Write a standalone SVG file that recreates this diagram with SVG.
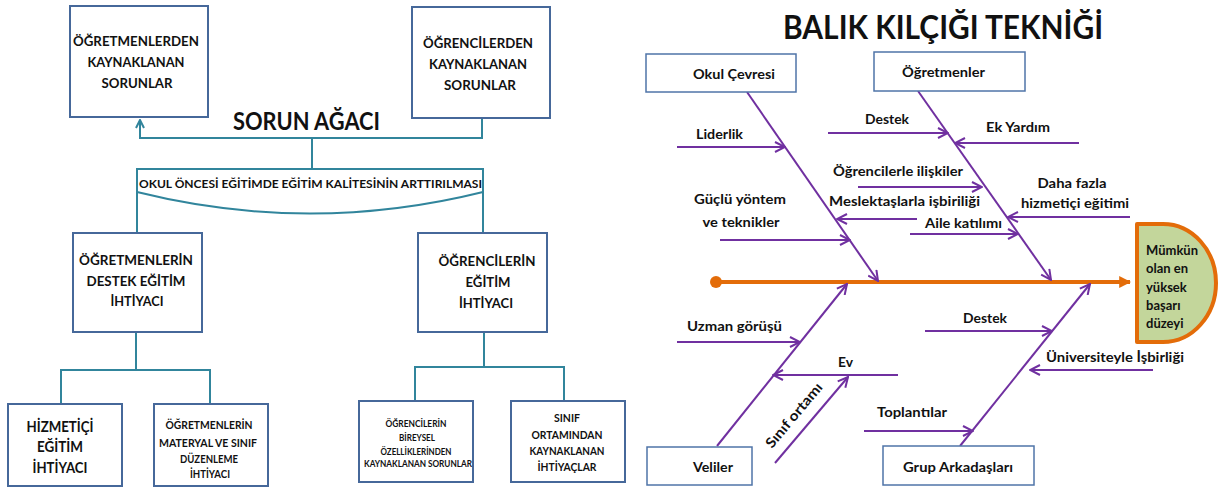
<svg xmlns="http://www.w3.org/2000/svg" width="1219" height="487" viewBox="0 0 1219 487">
<defs>
<style>
text{font-family:Lato,"Noto Sans","Liberation Sans",sans-serif;font-weight:bold;fill:#111}
.box{fill:#fff;stroke:#46689A;stroke-width:2}
.tc{fill:none;stroke:#31859C;stroke-width:2}
.pb{fill:none;stroke:#7030A0;stroke-width:2}
.fb{fill:#fff;stroke:#4F74A8;stroke-width:1.5}
.m{text-anchor:middle}
</style>
<marker id="ta" viewBox="0 0 10 10" refX="9" refY="5" markerWidth="10" markerHeight="10" orient="auto" markerUnits="userSpaceOnUse">
<path d="M1,1 L9,5 L1,9" fill="none" stroke="#31859C" stroke-width="2"/>
</marker>
<marker id="pa" viewBox="0 0 12 12" refX="11" refY="6" markerWidth="12" markerHeight="12" orient="auto" markerUnits="userSpaceOnUse">
<path d="M1,1 L11,6 L1,11" fill="none" stroke="#7030A0" stroke-width="2"/>
</marker>
<marker id="oa" viewBox="0 0 10 10" refX="9" refY="5" markerWidth="12" markerHeight="12" orient="auto" markerUnits="userSpaceOnUse">
<path d="M0,0 L10,5 L0,10 Z" fill="#E36C09"/>
</marker>
</defs>

<!-- LEFT: SORUN AĞACI -->
<text x="233" y="130" font-size="24" textLength="147" lengthAdjust="spacingAndGlyphs">SORUN AĞACI</text>

<g id="connectors-tree">
<path class="tc" d="M482,118 V138 H140 V120" marker-end="url(#ta)"/>
<path class="tc" d="M312,138 V169"/>
<path class="tc" d="M137,233 V169 H483 V233"/>
<path class="tc" d="M137,192 Q310,235 483,192"/>
<path class="tc" d="M136,332 V370 M61,404 V370 H210 V404"/>
<path class="tc" d="M484,332 V367 M415,401 V367 H564 V401"/>
</g>

<g id="n-goal">
<text x="139" y="188" font-size="12" textLength="343" lengthAdjust="spacingAndGlyphs">OKUL ÖNCESİ EĞİTİMDE EĞİTİM KALİTESİNİN ARTTIRILMASI</text>
</g>

<g id="n-ogretmenlerden">
<rect class="box" x="70" y="6" width="138" height="111"/>
<text class="m" x="136" y="46" font-size="14" textLength="126" lengthAdjust="spacingAndGlyphs">ÖĞRETMENLERDEN</text>
<text class="m" x="136" y="67" font-size="14" textLength="97" lengthAdjust="spacingAndGlyphs">KAYNAKLANAN</text>
<text class="m" x="137" y="88" font-size="14" textLength="71" lengthAdjust="spacingAndGlyphs">SORUNLAR</text>
</g>

<g id="n-ogrencilerden">
<rect class="box" x="412" y="7" width="138" height="111"/>
<text class="m" x="478" y="48" font-size="14" textLength="110" lengthAdjust="spacingAndGlyphs">ÖĞRENCİLERDEN</text>
<text class="m" x="478" y="69" font-size="14" textLength="98" lengthAdjust="spacingAndGlyphs">KAYNAKLANAN</text>
<text class="m" x="480" y="90" font-size="14" textLength="72" lengthAdjust="spacingAndGlyphs">SORUNLAR</text>
</g>

<g id="n-ogretmenlerin-destek">
<rect class="box" x="73" y="233" width="129" height="99"/>
<text class="m" x="136" y="265" font-size="14" textLength="114" lengthAdjust="spacingAndGlyphs">ÖĞRETMENLERİN</text>
<text class="m" x="136" y="286" font-size="14" textLength="99" lengthAdjust="spacingAndGlyphs">DESTEK EĞİTİM</text>
<text class="m" x="137" y="306" font-size="14" textLength="53" lengthAdjust="spacingAndGlyphs">İHTİYACI</text>
</g>

<g id="n-ogrencilerin-egitim">
<rect class="box" x="418" y="233" width="129" height="99"/>
<text class="m" x="487" y="266" font-size="14" textLength="97" lengthAdjust="spacingAndGlyphs">ÖĞRENCİLERİN</text>
<text class="m" x="488" y="287" font-size="14" textLength="45" lengthAdjust="spacingAndGlyphs">EĞİTİM</text>
<text class="m" x="486" y="308" font-size="14" textLength="54" lengthAdjust="spacingAndGlyphs">İHTİYACI</text>
</g>

<g id="n-hizmetici">
<rect class="box" x="8" y="404" width="114" height="82"/>
<text class="m" x="60" y="432" font-size="15" textLength="67" lengthAdjust="spacingAndGlyphs">HİZMETİÇİ</text>
<text class="m" x="60" y="452" font-size="15" textLength="46" lengthAdjust="spacingAndGlyphs">EĞİTİM</text>
<text class="m" x="60" y="473" font-size="15" textLength="55" lengthAdjust="spacingAndGlyphs">İHTİYACI</text>
</g>

<g id="n-materyal">
<rect class="box" x="154" y="404" width="114" height="82"/>
<text class="m" x="209" y="429" font-size="11" textLength="87" lengthAdjust="spacingAndGlyphs">ÖĞRETMENLERİN</text>
<text class="m" x="208" y="447" font-size="11" textLength="98" lengthAdjust="spacingAndGlyphs">MATERYAL VE SINIF</text>
<text class="m" x="209" y="463" font-size="11" textLength="58" lengthAdjust="spacingAndGlyphs">DÜZENLEME</text>
<text class="m" x="210" y="478" font-size="11" textLength="40" lengthAdjust="spacingAndGlyphs">İHTİYACI</text>
</g>

<g id="n-bireysel">
<rect class="box" x="359" y="401" width="114" height="81"/>
<text class="m" x="416" y="427" font-size="9" textLength="61" lengthAdjust="spacingAndGlyphs">ÖĞRENCİLERİN</text>
<text class="m" x="417" y="441" font-size="9" textLength="36" lengthAdjust="spacingAndGlyphs">BİREYSEL</text>
<text class="m" x="416" y="455" font-size="9" textLength="71" lengthAdjust="spacingAndGlyphs">ÖZELLİKLERİNDEN</text>
<text class="m" x="418" y="467" font-size="9" textLength="108" lengthAdjust="spacingAndGlyphs">KAYNAKLANAN SORUNLAR</text>
</g>

<g id="n-sinif-ortamindan">
<rect class="box" x="511" y="401" width="114" height="81"/>
<text class="m" x="567" y="422" font-size="11" textLength="26" lengthAdjust="spacingAndGlyphs">SINIF</text>
<text class="m" x="567" y="439" font-size="11" textLength="71" lengthAdjust="spacingAndGlyphs">ORTAMINDAN</text>
<text class="m" x="567" y="455" font-size="11" textLength="75" lengthAdjust="spacingAndGlyphs">KAYNAKLANAN</text>
<text class="m" x="567" y="471" font-size="11" textLength="59" lengthAdjust="spacingAndGlyphs">İHTİYAÇLAR</text>
</g>

<!-- RIGHT: BALIK KILÇIĞI -->
<text x="783" y="39" font-size="33" textLength="320" lengthAdjust="spacingAndGlyphs">BALIK KILÇIĞI TEKNİĞİ</text>

<g id="connectors-fish">
<line x1="716" y1="282" x2="1130" y2="282" stroke="#E36C09" stroke-width="4" marker-end="url(#oa)"/>
<circle cx="716" cy="282" r="6" fill="#E36C09"/>
<line class="pb" x1="747" y1="92" x2="878" y2="281" marker-end="url(#pa)"/>
<line class="pb" x1="918" y1="91" x2="1051" y2="280" marker-end="url(#pa)"/>
<line class="pb" x1="717" y1="446" x2="847" y2="284" marker-end="url(#pa)"/>
<line class="pb" x1="960" y1="446" x2="1090" y2="284" marker-end="url(#pa)"/>
<line class="pb" x1="677" y1="147" x2="785" y2="147" marker-end="url(#pa)"/>
<line class="pb" x1="720" y1="240" x2="850" y2="240" marker-end="url(#pa)"/>
<line class="pb" x1="828" y1="133" x2="948" y2="133" marker-end="url(#pa)"/>
<line class="pb" x1="1079" y1="143" x2="955" y2="143" marker-end="url(#pa)"/>
<line class="pb" x1="858" y1="187" x2="982" y2="187" marker-end="url(#pa)"/>
<line class="pb" x1="917" y1="219" x2="837" y2="219" marker-end="url(#pa)"/>
<line class="pb" x1="910" y1="234" x2="1018" y2="234" marker-end="url(#pa)"/>
<line class="pb" x1="1130" y1="217" x2="1008" y2="217" marker-end="url(#pa)"/>
<line class="pb" x1="677" y1="342" x2="800" y2="342" marker-end="url(#pa)"/>
<line class="pb" x1="898" y1="375" x2="773" y2="375" marker-end="url(#pa)"/>
<line class="pb" x1="775" y1="463" x2="848" y2="377" marker-end="url(#pa)"/>
<line class="pb" x1="925" y1="331" x2="1052" y2="331" marker-end="url(#pa)"/>
<line class="pb" x1="1153" y1="370" x2="1030" y2="370" marker-end="url(#pa)"/>
<line class="pb" x1="864" y1="431" x2="973" y2="431" marker-end="url(#pa)"/>
</g>

<g id="labels-fish" font-size="14">
<text x="696" y="139" font-size="14" textLength="47" lengthAdjust="spacingAndGlyphs">Liderlik</text>
<text class="m" x="740" y="204" font-size="14" textLength="92" lengthAdjust="spacingAndGlyphs">Güçlü yöntem</text>
<text class="m" x="741" y="227" font-size="14" textLength="77" lengthAdjust="spacingAndGlyphs">ve teknikler</text>
<text x="865" y="124" font-size="14" textLength="44" lengthAdjust="spacingAndGlyphs">Destek</text>
<text x="986" y="132" font-size="14" textLength="64" lengthAdjust="spacingAndGlyphs">Ek Yardım</text>
<text x="833" y="176" font-size="14" textLength="130" lengthAdjust="spacingAndGlyphs">Öğrencilerle ilişkiler</text>
<text x="829" y="206" font-size="14" textLength="151" lengthAdjust="spacingAndGlyphs">Meslektaşlarla işbiriliği</text>
<text x="925" y="228" font-size="14" textLength="77" lengthAdjust="spacingAndGlyphs">Aile katılımı</text>
<text class="m" x="1072" y="188" font-size="14" textLength="69" lengthAdjust="spacingAndGlyphs">Daha fazla</text>
<text class="m" x="1075" y="208" font-size="14" textLength="108" lengthAdjust="spacingAndGlyphs">hizmetiçi eğitimi</text>
<text x="687" y="331" font-size="14" textLength="95" lengthAdjust="spacingAndGlyphs">Uzman görüşü</text>
<text x="838" y="367" font-size="14" textLength="15" lengthAdjust="spacingAndGlyphs">Ev</text>
<text x="0" y="0" font-size="14" textLength="80" lengthAdjust="spacingAndGlyphs" transform="translate(772,449) rotate(-50)">Sınıf ortamı</text>
<text x="963" y="323" font-size="14" textLength="44" lengthAdjust="spacingAndGlyphs">Destek</text>
<text x="1046" y="362" font-size="14" textLength="138" lengthAdjust="spacingAndGlyphs">Üniversiteyle İşbirliği</text>
<text x="877" y="417" font-size="14" textLength="70" lengthAdjust="spacingAndGlyphs">Toplantılar</text>
</g>

<g id="n-okul-cevresi">
<rect class="fb" x="646" y="54" width="150" height="38"/>
<text x="693" y="79" font-size="14" textLength="82" lengthAdjust="spacingAndGlyphs">Okul Çevresi</text>
</g>

<g id="n-ogretmenler">
<rect class="fb" x="874" y="52" width="151" height="39"/>
<text x="902" y="77" font-size="14" textLength="83" lengthAdjust="spacingAndGlyphs">Öğretmenler</text>
</g>

<g id="n-veliler">
<rect class="fb" x="647" y="447" width="105" height="38"/>
<text class="m" x="713" y="472" font-size="14" textLength="40" lengthAdjust="spacingAndGlyphs">Veliler</text>
</g>

<g id="n-grup">
<rect class="fb" x="883" y="446" width="151" height="39"/>
<text class="m" x="958" y="472" font-size="14" textLength="110" lengthAdjust="spacingAndGlyphs">Grup Arkadaşları</text>
</g>

<g id="n-head">
<path d="M1137,224 H1163 A53,59 0 0 1 1163,342 H1137 Z" fill="#C3D69B" stroke="#E36C09" stroke-width="4" stroke-linejoin="round"/>
<text x="1146" y="255" font-size="13">Mümkün</text>
<text x="1146" y="273" font-size="13">olan en</text>
<text x="1146" y="292" font-size="13">yüksek</text>
<text x="1146" y="310" font-size="13">başarı</text>
<text x="1146" y="328" font-size="13">düzeyi</text>
</g>
</svg>
